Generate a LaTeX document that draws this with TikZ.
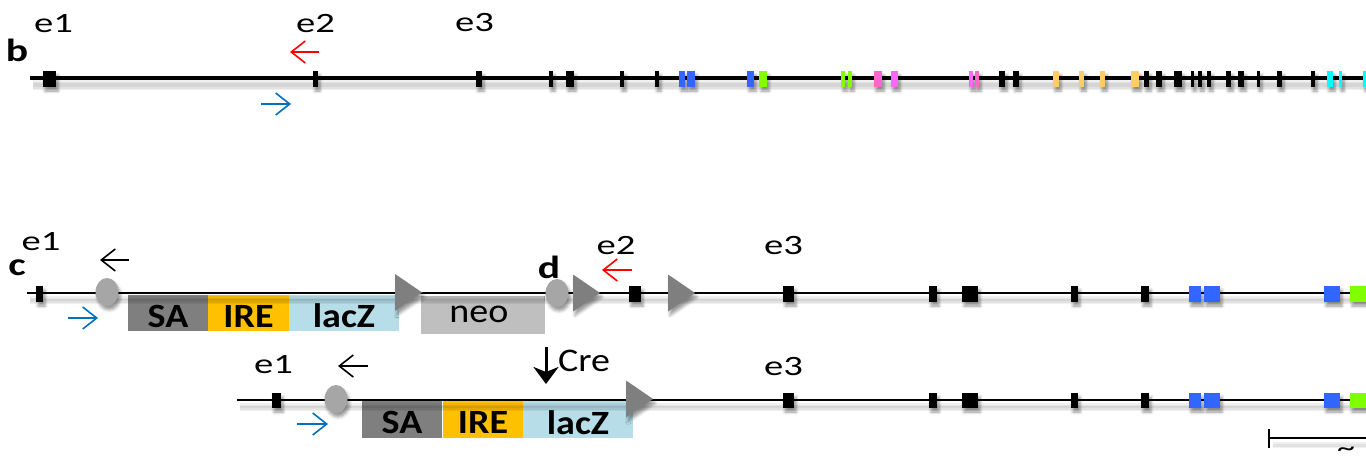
\documentclass[tikz,border=0pt]{standalone}
\usepackage{fontspec}
\usepackage{graphicx}
\setmainfont{Carlito}
\usetikzlibrary{arrows.meta,shapes.geometric,shadows.blur}
\definecolor{exblue}{HTML}{3366FF}
\definecolor{exgreen}{HTML}{80FF00}
\definecolor{expink}{HTML}{FF66CC}
\definecolor{exmag}{HTML}{FF66FF}
\definecolor{exorange}{HTML}{FFCC66}
\definecolor{excyan}{HTML}{00FFFF}
\definecolor{primerblue}{HTML}{0070C0}
\definecolor{sagray}{HTML}{7F7F7F}
\definecolor{iregold}{HTML}{FFC000}
\definecolor{lacblue}{HTML}{B7DEE8}
\definecolor{neogray}{HTML}{BFBFBF}
\definecolor{ovalgray}{HTML}{A6A6A6}
\definecolor{loxgray}{HTML}{7F7F7F}
% wide-set label text
\newcommand\elab[1]{\scalebox{1.38}[1]{#1}}
\newcommand\plab[1]{\scalebox{1.3}[1]{#1}}
\newcommand\blab[1]{\scalebox{1.12}[1]{#1}}
\begin{document}
\begin{tikzpicture}[x=1pt,y=-1pt,
  softsh/.style={blur shadow={shadow xshift=2pt,shadow yshift=-4pt,shadow blur radius=3pt,shadow opacity=40}},
  exon/.style={rectangle,inner sep=0pt,draw=none,softsh},
  cassette/.style={rectangle,inner sep=0pt,draw=none},
  lbl/.style={inner sep=0pt,font=\fontsize{28pt}{30pt}\selectfont},
  panel/.style={inner sep=0pt,font=\fontsize{32pt}{36pt}\selectfont\bfseries},
  boxtext/.style={inner sep=0pt,font=\fontsize{34pt}{36pt}\selectfont\bfseries},
  primer/.style={line width=1.6pt,-{Straight Barb[length=14pt,width=22pt]}},
  dnathick/.style={line width=4.5pt},
  dnathin/.style={line width=2pt},
  oval/.style={ellipse,fill=ovalgray,inner sep=0pt,minimum width=23pt,minimum height=28pt,softsh},
  loxp/.pic={\fill[loxgray,softsh] (-13.5,-18.5) -- (13.5,0) -- (-13.5,18.5) -- cycle;},
]
\useasboundingbox (0,0) rectangle (1366,464);
\clip (0,0) rectangle (1366,464);

% soft shadow under a DNA line
\newcommand\dnashadow[3]{%
  \foreach \w in {#3} {
    \draw[line width=\w pt,black,opacity=0.06]
      ([shift={(3,7)}]#1) -- ([shift={(3,7)}]#2);
  }}

% ---------------- panel b: wild-type locus ----------------
\coordinate (bL) at (30,78);
\coordinate (bR) at (1366,78);
\dnashadow{bL}{bR}{10,7,4}
\draw[dnathick] (bL) -- (bR);
\foreach \xa/\xb/\c [count=\i] in {43/56/black,313/318/black,476/482/black,549/553/black,566/574/black,620/624/black,655/659/black,679/685/exblue,687/695/exblue,747/754/exblue,759/767/exgreen,841/845/exgreen,848/852/exgreen,874/882/expink,891/898/exmag,969/973/exmag,975/979/expink,999/1005/black,1013/1019/black,1053/1059/exorange,1079/1084/exorange,1100/1105/exorange,1131/1139/exorange,1144/1149/black,1156/1162/black,1174/1182/black,1191/1194/black,1198/1202/black,1207/1211/black,1226/1231/black,1238/1244/black,1257/1260/black,1277/1282/black,1311/1315/black,1327/1333/excyan,1339/1342/excyan,1363/1369/excyan} {
  \pgfmathsetmacro\exw{\xb-\xa}
  \pgfmathsetmacro\exm{(\xa+\xb)/2}
  \node[exon,fill=\c,minimum width=\exw pt,minimum height=16pt] (bx\i) at (\exm,79) {};
}
\node[panel] (lb) at (17,50) {\plab{b}};
\node[lbl] (be1) at (53.5,24) {\elab{e1}};
\node[lbl] (be2) at (315.5,24) {\elab{e2}};
\node[lbl] (be3) at (474.5,23) {\elab{e3}};
\coordinate (bpr1s) at (319,52);  \coordinate (bpr1e) at (290,52);
\coordinate (bpf1s) at (261,104); \coordinate (bpf1e) at (291,104);
\draw[primer,red] (bpr1s) -- (bpr1e);
\draw[primer,primerblue] (bpf1s) -- (bpf1e);

% ---------------- panel c/d: targeted allele ----------------
\node[cassette,fill=sagray,minimum width=80pt,minimum height=36pt] (csa) at (168,313) {};
\node[cassette,fill=iregold,minimum width=81pt,minimum height=36pt] (cire) at (248.5,313) {};
\node[cassette,fill=lacblue,minimum width=110pt,minimum height=36pt] (clac) at (344,313) {};
\node[cassette,fill=neogray,minimum width=124pt,minimum height=38pt] (cneo) at (483,315) {};
\node[boxtext] at ([yshift=-3pt]csa.center) {\blab{SA}};
\node[boxtext] at ([yshift=-3pt]cire.center) {\blab{IRE}};
\node[boxtext] at ([yshift=-3pt]clac.center) {\blab{lacZ}};
\node[inner sep=0pt,font=\fontsize{34pt}{36pt}\selectfont] at ([xshift=-4pt,yshift=1pt]cneo.center) {\blab{neo}};

\coordinate (cL) at (27,293);
\coordinate (cR) at (1366,293);
\dnashadow{cL}{cR}{8,5,2}
\draw[dnathin] (cL) -- (cR);
\foreach \xa/\xb/\c [count=\i] in {36/43/black,629/641/black,783/794/black,929/937/black,962/978/black,1071/1078/black,1141/1149/black,1189/1201/exblue,1204/1220/exblue,1324/1340/exblue,1350/1368/exgreen} {
  \pgfmathsetmacro\exw{\xb-\xa}
  \pgfmathsetmacro\exm{(\xa+\xb)/2}
  \node[exon,fill=\c,minimum width=\exw pt,minimum height=16pt] (cx\i) at (\exm,294) {};
}
\node[oval] (cfrt) at (107,292) {};
\node[oval] (cfrt2) at (557,293) {};
\pic at (408.5,292.5) {loxp};
\pic at (586.5,293) {loxp};
\pic at (681.5,293) {loxp};
\node[panel] (lc) at (17,268) {\plab{c}};
\node[panel] (ld) at (549,267.5) {\plab{d}};
\node[lbl] (ce1) at (41,242) {\elab{e1}};
\node[lbl] (ce2) at (616,246) {\elab{e2}};
\node[lbl] (ce3) at (783.5,246) {\elab{e3}};
\coordinate (cpr1s) at (129,260); \coordinate (cpr1e) at (100,260);
\coordinate (cpf1s) at (68,318);  \coordinate (cpf1e) at (98,318);
\coordinate (cpr2s) at (632,270); \coordinate (cpr2e) at (602,270);
\draw[primer,black] (cpr1s) -- (cpr1e);
\draw[primer,primerblue] (cpf1s) -- (cpf1e);
\draw[primer,red] (cpr2s) -- (cpr2e);

% ---------------- after Cre recombination ----------------
\node[cassette,fill=sagray,minimum width=80pt,minimum height=37pt] (dsa) at (402,419.5) {};
\node[cassette,fill=iregold,minimum width=80pt,minimum height=37pt] (dire) at (483,419.5) {};
\node[cassette,fill=lacblue,minimum width=110pt,minimum height=37pt] (dlac) at (578,419.5) {};
\node[boxtext] at ([yshift=-3pt]dsa.center) {\blab{SA}};
\node[boxtext] at ([yshift=-3pt]dire.center) {\blab{IRE}};
\node[boxtext] at ([yshift=-3pt]dlac.center) {\blab{lacZ}};

\coordinate (dL) at (237,400);
\coordinate (dR) at (1366,400);
\dnashadow{dL}{dR}{8,5,2}
\draw[dnathin] (dL) -- (dR);
\foreach \xa/\xb/\c [count=\i] in {272/281/black,783/794/black,929/937/black,962/978/black,1071/1078/black,1141/1149/black,1189/1201/exblue,1204/1220/exblue,1324/1340/exblue,1350/1368/exgreen} {
  \pgfmathsetmacro\exw{\xb-\xa}
  \pgfmathsetmacro\exm{(\xa+\xb)/2}
  \node[exon,fill=\c,minimum width=\exw pt,minimum height=15pt] (dx\i) at (\exm,400.5) {};
}
\node[oval] (dfrt) at (336,399) {};
\pic at (639.5,399) {loxp};
\node[lbl] (de1) at (273.5,365) {\elab{e1}};
\node[lbl] (de3) at (783.5,367) {\elab{e3}};
\coordinate (dpr1s) at (368,366); \coordinate (dpr1e) at (338,366);
\coordinate (dpf1s) at (297,424); \coordinate (dpf1e) at (328,424);
\draw[primer,black] (dpr1s) -- (dpr1e);
\draw[primer,primerblue] (dpf1s) -- (dpf1e);

% Cre arrow
\coordinate (creT) at (546,347);
\coordinate (creB) at (546,384);
\draw[line width=3pt,-{Stealth[length=17pt,width=25pt,inset=5pt]}] (creT) -- (creB);
\node[inner sep=0pt,font=\fontsize{33pt}{35pt}\selectfont,anchor=west] (cre) at (558,361) {\scalebox{1.15}[1]{Cre}};

% scale bar
\coordinate (sbL) at (1270,438);
\coordinate (sbR) at (1366,438);
\coordinate (sbT) at (1269,429);
\coordinate (sbB) at (1269,448);
\dnashadow{sbL}{sbR}{6,3}
\draw[line width=2pt] (sbL) -- (sbR);
\draw[line width=2.5pt] (sbT) -- (sbB);
\node[inner sep=0pt,font=\fontsize{26pt}{28pt}\selectfont] (tilde) at (1346,452) {\elab{\textasciitilde}};
\end{tikzpicture}
\end{document}
